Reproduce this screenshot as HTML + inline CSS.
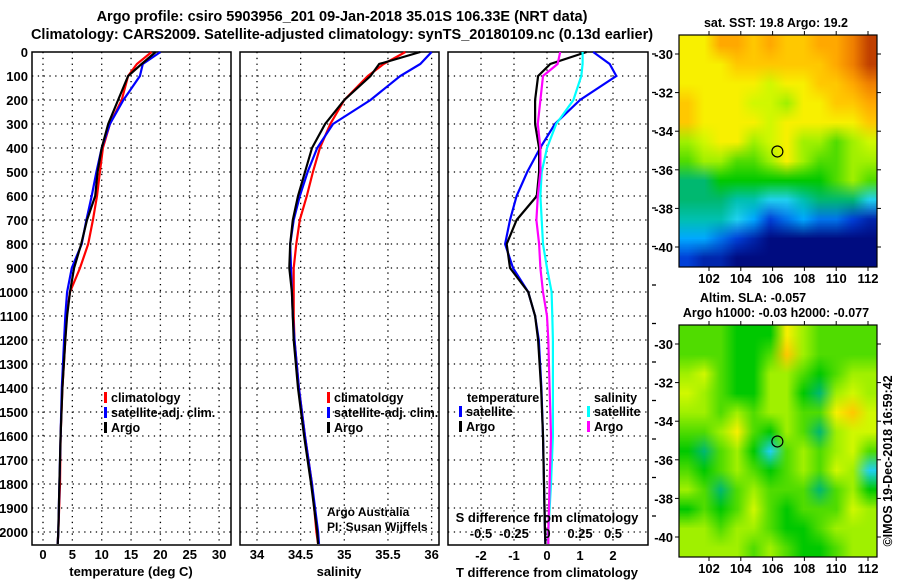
<!DOCTYPE html>
<html><head><meta charset="utf-8"><style>
body{margin:0;background:#fff;}
svg text{font-family:"Liberation Sans",sans-serif;font-weight:bold;fill:#000;}
</style></head><body>
<svg id="s" width="900" height="580" xmlns="http://www.w3.org/2000/svg"></svg>
<script>
// ---------- data ----------
const depths = [0,50,100,200,300,400,500,600,700,800,900,1000,1100,1200,1400,1600,1800,2000,2050];
const tempArgo = [19.2,16.8,14.5,12.8,11.1,10.0,9.3,8.9,7.5,6.5,5.3,4.6,4.1,3.8,3.3,3.0,2.8,2.6,2.5];
const tempClim = [18.5,16.0,14.5,13.4,11.4,10.2,9.7,9.2,8.5,7.7,6.3,4.6,4.0,3.8,3.3,3.0,2.9,2.6,2.5];
const tempSat  = [20.0,17.0,16.5,13.7,11.4,10.0,9.1,8.3,7.4,6.6,4.9,4.1,3.8,3.6,3.2,3.0,2.8,2.6,2.5];
const salArgo = [35.87,35.40,35.30,35.00,34.78,34.63,34.55,34.47,34.41,34.38,34.37,34.40,34.41,34.42,34.47,34.54,34.62,34.69,34.70];
const salClim = [35.70,35.45,35.27,35.00,34.84,34.72,34.64,34.57,34.49,34.45,34.42,34.42,34.42,34.43,34.48,34.55,34.63,34.68,34.70];
const salSat  = [36.00,35.87,35.64,35.30,34.87,34.69,34.58,34.49,34.42,34.38,34.39,34.40,34.41,34.43,34.48,34.55,34.63,34.70,34.71];
const dTArgo = [1.2,0.1,-0.27,-0.36,-0.36,-0.24,-0.24,-0.31,-0.92,-1.22,-1.12,-0.57,-0.36,-0.27,-0.18,-0.12,-0.09,-0.06,-0.05];
const dTSat  = [1.4,1.9,2.1,1.0,0.24,-0.21,-0.6,-0.92,-1.12,-1.27,-1.03,-0.57,-0.36,-0.25,-0.17,-0.12,-0.09,-0.06,-0.05];
const dSArgo = [0.10,0.08,-0.03,-0.05,-0.07,-0.05,-0.05,-0.07,-0.08,-0.06,-0.05,-0.03,0.0,0.01,0.02,0.03,0.02,0.01,0.01];
const dSSat  = [0.27,0.27,0.26,0.20,0.07,0.0,-0.04,-0.05,-0.04,-0.03,0.0,0.035,0.04,0.045,0.045,0.045,0.03,0.01,0.01];
const depthTicks = [0,100,200,300,400,500,600,700,800,900,1000,1100,1200,1300,1400,1500,1600,1700,1800,1900,2000];
const tempTicks = [0,5,10,15,20,25,30];
const salTicks = [34,34.5,35,35.5,36];
const salTickLabels = ["34","34.5","35","35.5","36"];
const dTTicks = [-2,-1,0,1,2];
const dSTicks = [-0.5,-0.25,0,0.25,0.5];
const dSTickLabels = ["-0.5","-0.25","0","0.25","0.5"];
const lonTicks = [102,104,106,108,110,112];
const latTicks = [-30,-32,-34,-36,-38,-40];
const sstGrid = [
[6,6,7,7,6.5,7,6.5,6.5,7,7,7.5,8],
[6,6,6,6.5,6.5,6.5,6.5,6.5,6.5,7,7.5,8],
[6,6,6,6,6,5.5,6,6,6.5,6.5,7,7.5],
[6.5,6,6,6,5.5,5.5,5,6,6,6.5,6.5,7],
[6.5,6,6,6,6,5.5,6,6,6,6,6,6.5],
[5,5.5,6,6,5,5.5,6,5,5,4.5,5,5.5],
[4.5,5,5,4.5,4.5,5,6,5,4.5,4.5,5,5],
[3.5,3.5,4,4,4,4,4,4,4,4.5,5,4.5],
[3.5,3.5,3.5,3,3,2.5,2.5,3,3.5,3.5,3.5,2.5],
[3,3,3,2.5,2,1,1.5,2,1.5,1.5,1,0.5],
[2,2,1.5,1,0.5,0,0,0,0,0,0,0],
[1,0.5,0.5,0,0,0,0,0,0,0,0,0]];
const slaGrid = [
[4.5,4.5,4.5,4,4,4,6,5,4.5,4.5,4.5,4.5],
[4.5,4.5,4.5,4,4,4.5,6.5,5,4.5,4.5,4.5,4.5],
[5,5.5,4.5,4,4,5,5,4.5,4,4.5,5,5],
[5.5,5,4.5,4,4,5,5,4,3.5,5,5.5,5],
[5,5,4.5,5,4.5,5,5,4.5,4.5,6,6.5,5.5],
[4.5,4.5,5,6,4.5,4,5,4.5,3.5,5,5.5,5.5],
[4,3.5,4.5,5,4,2.5,4.5,5,4.5,5,5.5,4.5],
[4.5,4,4.5,5,4.5,4,4.5,5,4.5,5.5,5,2.5],
[5,4.5,3.5,4.5,5,4.5,4.5,4.5,3.5,4.5,5,4],
[4,4.5,4,4.5,5.5,4.5,4,4.5,4.5,4.5,5.5,5],
[5,5,4.5,5,5,4.5,4,4,4.5,5,5,5],
[5,5,5,5,4.5,5,4.5,4,4,4.5,5,5]];

// ---------- helpers ----------
const S=document.getElementById('s');const NS='http://www.w3.org/2000/svg';
function el(t,a,p){const e=document.createElementNS(NS,t);for(const k in a)e.setAttribute(k,a[k]);(p||S).appendChild(e);return e;}
function txt(x,y,s,size,anchor,name,extra){const e=el('text',Object.assign({x:x,y:y,'font-size':size,'text-anchor':anchor||'middle'},extra||{}));e.textContent=s;

return e;}
const TOP=52,BOT=545;
const yD=d=>52+d*0.24;

function panel(x0,x1,name){
  const g=el('g',{});
  
  
  depthTicks.forEach(d=>{if(d>0)el('line',{x1:x0,x2:x1,y1:yD(d),y2:yD(d),stroke:'#000','stroke-width':1.3,'stroke-dasharray':'1.3,4.5'},g);});
  el('rect',{x:x0,y:TOP,width:x1-x0,height:BOT-TOP,fill:'none',stroke:'#000','stroke-width':1.5},g);
  return g;
}
function vgrid(g,xs){xs.forEach(x=>el('line',{x1:x,x2:x,y1:TOP,y2:BOT,stroke:'#000','stroke-width':1.3,'stroke-dasharray':'1.3,4.5'},g));}
function line(g,vals,fx,color,name){const pts=vals.map((v,i)=>fx(v).toFixed(1)+','+yD(depths[i]).toFixed(1)).join(' ');
const p=el('polyline',{points:pts,fill:'none',stroke:color,'stroke-width':2.2},g);

}

// titles
txt(342,21,'Argo profile: csiro 5903956_201 09-Jan-2018 35.01S 106.33E (NRT data)',14.5,'middle','figure-title');
txt(342,39,'Climatology: CARS2009. Satellite-adjusted climatology: synTS_20180109.nc (0.13d earlier)',14.5,'middle','figure-subtitle');

// panel 1
const xT=t=>43+t*5.87;
const g1=panel(32,231,'temperature-panel');
vgrid(g1,tempTicks.map(xT));
line(g1,tempClim,xT,'#ff0000','temp-climatology-line');
line(g1,tempSat,xT,'#0000ff','temp-satellite-line');
line(g1,tempArgo,xT,'#000000','temp-argo-line');
depthTicks.forEach(d=>txt(28,yD(d)+5,String(d),13,'end','depth-tick-label'));
tempTicks.forEach(t=>txt(xT(t),559,String(t),13,'middle','temp-tick-label'));
txt(131,576,'temperature (deg C)',13,'middle','x-axis-title-temperature');
function legend(x,y,items,name){items.forEach((it,i)=>{el('rect',{x:x,y:y+i*15-10,width:3,height:11,fill:it[1]});txt(x+7,y+i*15,it[0],12.5,'start',name);});}
legend(104,402,[['climatology','#ff0000'],['satellite-adj. clim.','#0000ff'],['Argo','#000']],'temp-legend-entry');

// panel 2
const xS=s=>257+(s-34)*87.3;
const g2=panel(240,439,'salinity-panel');
vgrid(g2,salTicks.map(xS));
line(g2,salClim,xS,'#ff0000','sal-climatology-line');
line(g2,salSat,xS,'#0000ff','sal-satellite-line');
line(g2,salArgo,xS,'#000000','sal-argo-line');
salTicks.forEach((s,i)=>txt(xS(s),559,salTickLabels[i],13,'middle','salinity-tick-label'));
txt(339,576,'salinity',13,'middle','x-axis-title-salinity');
legend(327,402,[['climatology','#ff0000'],['satellite-adj. clim.','#0000ff'],['Argo','#000']],'sal-legend-entry');
txt(327,516,'Argo Australia',12,'start','credit-text',{'font-weight':'normal'});
txt(327,531,'PI: Susan Wijffels',12,'start','credit-pi-text',{'font-weight':'normal'});

// panel 3
const xdT=t=>547+t*33;
const xdS=s=>547+s*132;
const g3=panel(448,648,'difference-panel');
vgrid(g3,dTTicks.map(xdT));
line(g3,dTSat,xdT,'#0000ff','dT-satellite-line');
line(g3,dTArgo,xdT,'#000000','dT-argo-line');
line(g3,dSSat,xdS,'#00ffff','dS-satellite-line');
line(g3,dSArgo,xdS,'#ff00ff','dS-argo-line');
for(let k=0;k<13;k++)el('line',{x1:652,x2:656,y1:54+k*38.5,y2:54+k*38.5,stroke:'#000','stroke-width':1.3});
dTTicks.forEach(t=>txt(xdT(t),560,String(t),13,'middle','dT-tick-label'));
dSTicks.forEach((s,i)=>txt(xdS(s),538,dSTickLabels[i],13,'middle','dS-tick-label'));
txt(547,522,'S difference from climatology',13,'middle','dS-axis-title');
txt(547,577,'T difference from climatology',13,'middle','dT-axis-title');
txt(467,402,'temperature',12.5,'start','dT-legend-title');
txt(594,402,'salinity',12.5,'start','dS-legend-title');
legend(459,416,[['satellite','#0000ff'],['Argo','#000']],'dT-legend-entry');
legend(587,416,[['satellite','#00ffff'],['Argo','#ff00ff']],'dS-legend-entry');

// ---------- maps ----------
const stops=[[0,[0,12,128]],[1,[0,64,216]],[2,[0,168,255]],[2.5,[32,208,240]],[3,[0,192,176]],[3.5,[0,184,112]],[4,[0,200,0]],[4.5,[80,220,0]],[5,[160,240,0]],[5.5,[208,248,0]],[6,[248,240,0]],[6.5,[255,200,0]],[7,[255,168,0]],[7.5,[240,128,0]],[8,[192,64,0]]];
function cmap(v){for(let i=1;i<stops.length;i++){if(v<=stops[i][0]){const a=stops[i-1],b=stops[i],f=(v-a[0])/(b[0]-a[0]);return 'rgb('+a[1].map((c,j)=>Math.round(c+(b[1][j]-c)*f)).join(',')+')';}}return 'rgb(192,64,0)';}
const MX0=679,MX1=877;
const lonX=l=>709+(l-102)*15.9;
function map(y0,grid,name){
  const y1=y0+232;
  const latY=la=>y0+19+(-30-la)*19.3;
  const fo=el('foreignObject',{x:MX0,y:y0,width:MX1-MX0,height:y1-y0});
  const c=document.createElement('canvas');c.width=12;c.height=12;
  
  
  c.style.cssText='width:'+(MX1-MX0)+'px;height:'+(y1-y0)+'px;display:block;';
  const ctx=c.getContext('2d');
  grid.forEach((row,r)=>row.forEach((v,k)=>{ctx.fillStyle=cmap(v);ctx.fillRect(k,r,1,1);}));
  fo.appendChild(c);
  
  
  el('rect',{x:MX0,y:y0,width:MX1-MX0,height:y1-y0,fill:'none',stroke:'#000','stroke-width':1.2});
  lonTicks.forEach(l=>{el('line',{x1:lonX(l),x2:lonX(l),y1:y0-4,y2:y0,stroke:'#000'});el('line',{x1:lonX(l),x2:lonX(l),y1:y1,y2:y1+4,stroke:'#000'});txt(lonX(l),y1+16,String(l),13,'middle','lon-tick-label');});
  latTicks.forEach(la=>{el('line',{x1:MX0-4,x2:MX0,y1:latY(la),y2:latY(la),stroke:'#000'});el('line',{x1:MX1,x2:MX1+4,y1:latY(la),y2:latY(la),stroke:'#000'});txt(673,latY(la)+5,String(la),13,'end','lat-tick-label');});
  const m=el('circle',{cx:lonX(106.3),cy:latY(-35.05),r:5.5,fill:'none',stroke:'#000','stroke-width':1.2});
  
  
}
txt(776,27,'sat. SST: 19.8 Argo: 19.2',12.5,'middle','sst-map-title');
map(35,sstGrid,'sst-map');
txt(753,302,'Altim. SLA: -0.057',12.5,'middle','sla-map-title');
txt(776,317,'Argo h1000: -0.03 h2000: -0.077',12.5,'middle','sla-map-subtitle');
map(325,slaGrid,'sla-map');
txt(0,0,'©IMOS 19-Dec-2018 16:59:42',12.5,'middle','imos-timestamp',{transform:'translate(892,461) rotate(-90)','font-weight':'normal'});
</script>
</body></html>
